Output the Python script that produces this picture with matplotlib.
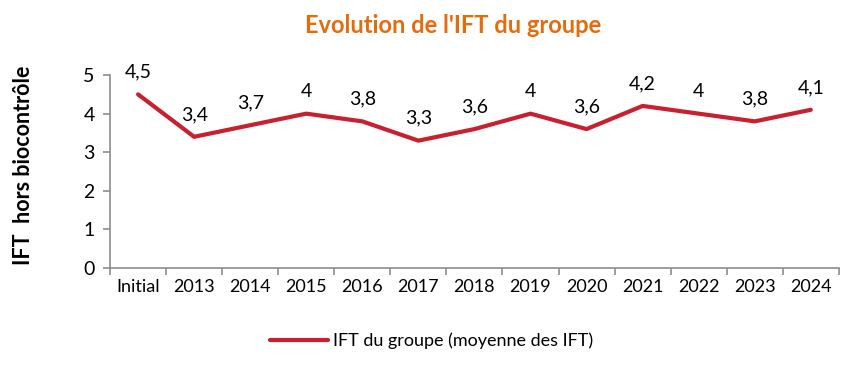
import matplotlib.pyplot as plt
import numpy as np

plt.rcParams['font.family'] = ['Lato', 'DejaVu Sans']

annees = ["Initial", "2013", "2014", "2015", "2016", "2017", "2018",
          "2019", "2020", "2021", "2022", "2023", "2024"]
ift = [4.5, 3.4, 3.7, 4.0, 3.8, 3.3, 3.6, 4.0, 3.6, 4.2, 4.0, 3.8, 4.1]

rouge = "#C8202F"
gris = "#8C8C8C"

fig = plt.figure(figsize=(8.63, 3.85), dpi=100)
ax = fig.add_axes([0.1275, 0.304, 0.8445, 0.501])

x = np.arange(len(annees))
ax.plot(x, ift, color=rouge, lw=3, solid_capstyle='round', solid_joinstyle='round',
        label="IFT du groupe (moyenne des IFT)")

for xi, v in zip(x, ift):
    txt = ("%g" % v).replace(".", ",")
    ax.annotate(txt, (xi, v), xytext=(0, 10), textcoords="offset points",
                ha="center", va="bottom", fontsize=14)

ax.set_xlim(-0.5, len(annees) - 0.5)
ax.set_ylim(0, 5)
ax.set_yticks(range(6))
ax.set_xticks(x)
ax.set_xticklabels(annees)
ax.set_xticks(np.arange(-0.5, len(annees)), minor=True)
ax.tick_params(axis="x", which="major", length=0, labelsize=13, pad=8)
ax.tick_params(axis="x", which="minor", length=5, color=gris, width=1.2)
ax.tick_params(axis="y", length=5, color=gris, width=1.2, labelsize=14, pad=6)

for s in ["top", "right"]:
    ax.spines[s].set_visible(False)
for s in ["left", "bottom"]:
    ax.spines[s].set_color(gris)
    ax.spines[s].set_linewidth(1.2)

ax.set_ylabel("IFT  hors biocontrôle", fontsize=15.5, fontweight="bold", labelpad=0)
ax.yaxis.set_label_coords(-0.105, 0.53)
fig.text(0.525, 0.935, "Evolution de l'IFT du groupe", ha="center", va="center",
         fontsize=17, fontweight="bold", color="#E46C0A")

fig.legend(loc="center", bbox_to_anchor=(0.5, 0.115), frameon=False, fontsize=13,
           handlelength=3.2, handletextpad=0.3)

fig.savefig("out.png", dpi=100)
